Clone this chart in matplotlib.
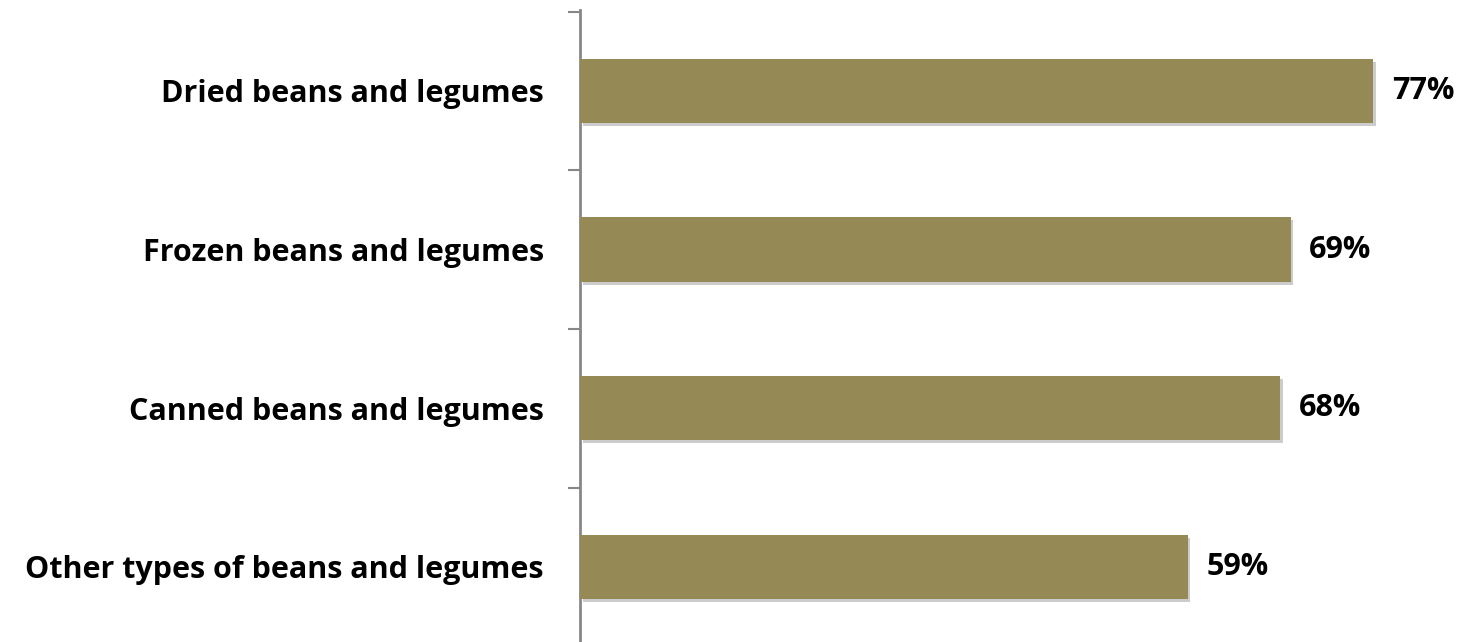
import matplotlib
matplotlib.use("Agg")
import matplotlib.pyplot as plt
import matplotlib.patheffects as pe

categories = ["Other types of beans and legumes", "Canned beans and legumes",
              "Frozen beans and legumes", "Dried beans and legumes"]
values = [59, 68, 69, 77]
value_labels = ["59%", "68%", "69%", "77%"]

plt.rcParams['font.family'] = ['Open Sans', 'DejaVu Sans']

W, H = 1476, 642
fig = plt.figure(figsize=(W / 100, H / 100), dpi=100)
ax = fig.add_axes([580 / W, 0, (W - 580) / W, (642 - 10) / H])

bar_color = "#958A55"
axis_color = "#878787"
ypos = list(range(len(categories)))
bars = ax.barh(ypos, values, height=0.405, color=bar_color, zorder=3)
for b in bars:
    b.set_path_effects([pe.SimplePatchShadow(offset=(2, -2), shadow_rgbFace="#000000", alpha=0.2),
                        pe.Normal()])

for y, v, lab in zip(ypos, values, value_labels):
    ax.annotate(lab, xy=(v, y), xytext=(13.5, 0), textcoords="offset points",
                ha="left", va="center", fontsize=22, fontweight="bold", color="black")

ax.set_xlim(0, 87)
ax.set_ylim(-0.473, 3.51)
ax.set_xticks([])

ax.set_yticks(ypos)
ax.set_yticklabels(categories, fontsize=22, fontweight="bold")
ax.tick_params(axis="y", which="major", length=0, pad=26)
ax.set_yticks([0.5, 1.5, 2.5, 3.5], minor=True)
ax.tick_params(axis="y", which="minor", length=9, width=1.5, color=axis_color)

for s in ["top", "right", "bottom"]:
    ax.spines[s].set_visible(False)
ax.spines["left"].set_color(axis_color)
ax.spines["left"].set_linewidth(2)

fig.savefig("out.png", dpi=100)
